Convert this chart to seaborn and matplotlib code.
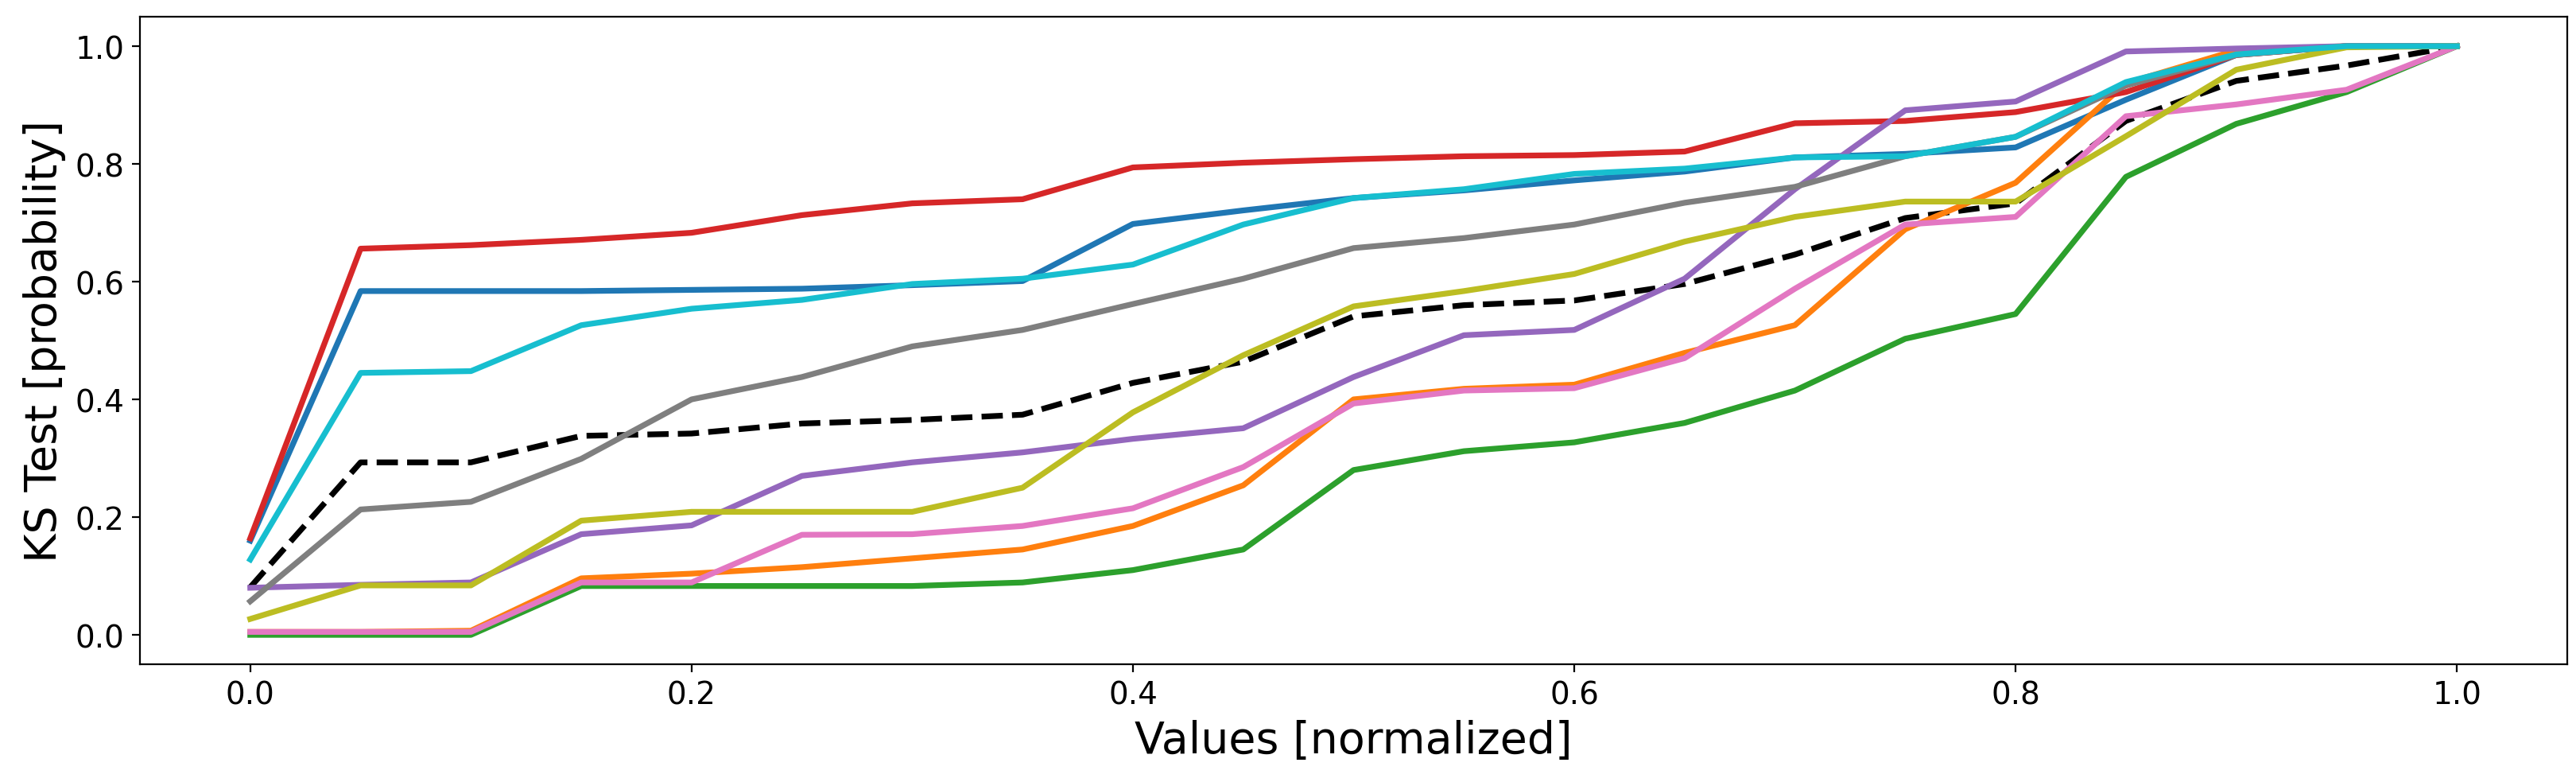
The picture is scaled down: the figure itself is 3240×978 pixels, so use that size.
import numpy as np
import pandas as pd
import seaborn as sns
import matplotlib
matplotlib.use('Agg')
import matplotlib.pyplot as plt

values = [0.0, 0.05, 0.1, 0.15, 0.2, 0.25, 0.3, 0.35, 0.4, 0.45, 0.5,
          0.55, 0.6, 0.65, 0.7, 0.75, 0.8, 0.85, 0.9, 0.95, 1.0]

ks_blue = [0.16, 0.584, 0.584, 0.584, 0.586, 0.588, 0.594, 0.601, 0.698, 0.721, 0.742,
           0.755, 0.772, 0.787, 0.811, 0.817, 0.828, 0.909, 0.985, 1.0, 1.0]
ks_orange = [0.005, 0.005, 0.007, 0.096, 0.104, 0.115, 0.130, 0.145, 0.185, 0.254, 0.400,
             0.418, 0.425, 0.479, 0.526, 0.689, 0.768, 0.937, 0.993, 1.0, 1.0]
ks_green = [0.0, 0.0, 0.0, 0.083, 0.083, 0.083, 0.083, 0.089, 0.110, 0.145, 0.280,
            0.312, 0.327, 0.360, 0.415, 0.503, 0.545, 0.778, 0.868, 0.922, 1.0]
ks_red = [0.164, 0.656, 0.662, 0.671, 0.683, 0.713, 0.733, 0.740, 0.794, 0.802, 0.808,
          0.813, 0.815, 0.821, 0.869, 0.873, 0.888, 0.922, 0.985, 1.0, 1.0]
ks_purple = [0.080, 0.085, 0.089, 0.171, 0.186, 0.270, 0.293, 0.310, 0.333, 0.351, 0.438,
             0.509, 0.518, 0.605, 0.757, 0.891, 0.906, 0.991, 0.996, 1.0, 1.0]
ks_pink = [0.005, 0.005, 0.005, 0.089, 0.089, 0.170, 0.171, 0.185, 0.215, 0.285, 0.393,
           0.415, 0.419, 0.470, 0.588, 0.697, 0.710, 0.881, 0.901, 0.926, 1.0]
ks_gray = [0.057, 0.213, 0.226, 0.299, 0.400, 0.438, 0.490, 0.518, 0.562, 0.605, 0.657,
           0.674, 0.697, 0.734, 0.761, 0.813, 0.846, 0.933, 0.985, 1.0, 1.0]
ks_olive = [0.027, 0.084, 0.084, 0.194, 0.209, 0.209, 0.209, 0.250, 0.378, 0.475, 0.558,
            0.584, 0.613, 0.668, 0.710, 0.736, 0.736, 0.847, 0.960, 0.998, 1.0]
ks_cyan = [0.128, 0.445, 0.448, 0.526, 0.554, 0.569, 0.596, 0.605, 0.629, 0.697, 0.742,
           0.757, 0.783, 0.792, 0.811, 0.813, 0.846, 0.939, 0.986, 1.0, 1.0]
ks_mean = [0.081, 0.293, 0.293, 0.338, 0.342, 0.359, 0.365, 0.374, 0.428, 0.464, 0.541,
           0.560, 0.568, 0.596, 0.646, 0.708, 0.733, 0.873, 0.941, 0.967, 1.0]

series = [('tab:blue', ks_blue), ('tab:orange', ks_orange), ('tab:green', ks_green),
          ('tab:red', ks_red), ('tab:purple', ks_purple), ('tab:pink', ks_pink),
          ('tab:gray', ks_gray), ('tab:olive', ks_olive), ('tab:cyan', ks_cyan)]

fig, ax = plt.subplots(1, 1, figsize=(16.205, 4.895), dpi=200)

sns.lineplot(x=values, y=ks_mean, color='black', linestyle='--', linewidth=2.6, ax=ax)
for color, ks in series:
    sns.lineplot(x=values, y=ks, color=color, linewidth=2.6, ax=ax)

ax.set_xlabel('Values [normalized]', fontsize=20)
ax.set_ylabel('KS Test [probability]', fontsize=20)
ax.tick_params(axis='both', labelsize=14)
fig.subplots_adjust(left=0.0543, right=0.9963, top=0.9775, bottom=0.146)
fig.savefig('out.png', dpi=200)
